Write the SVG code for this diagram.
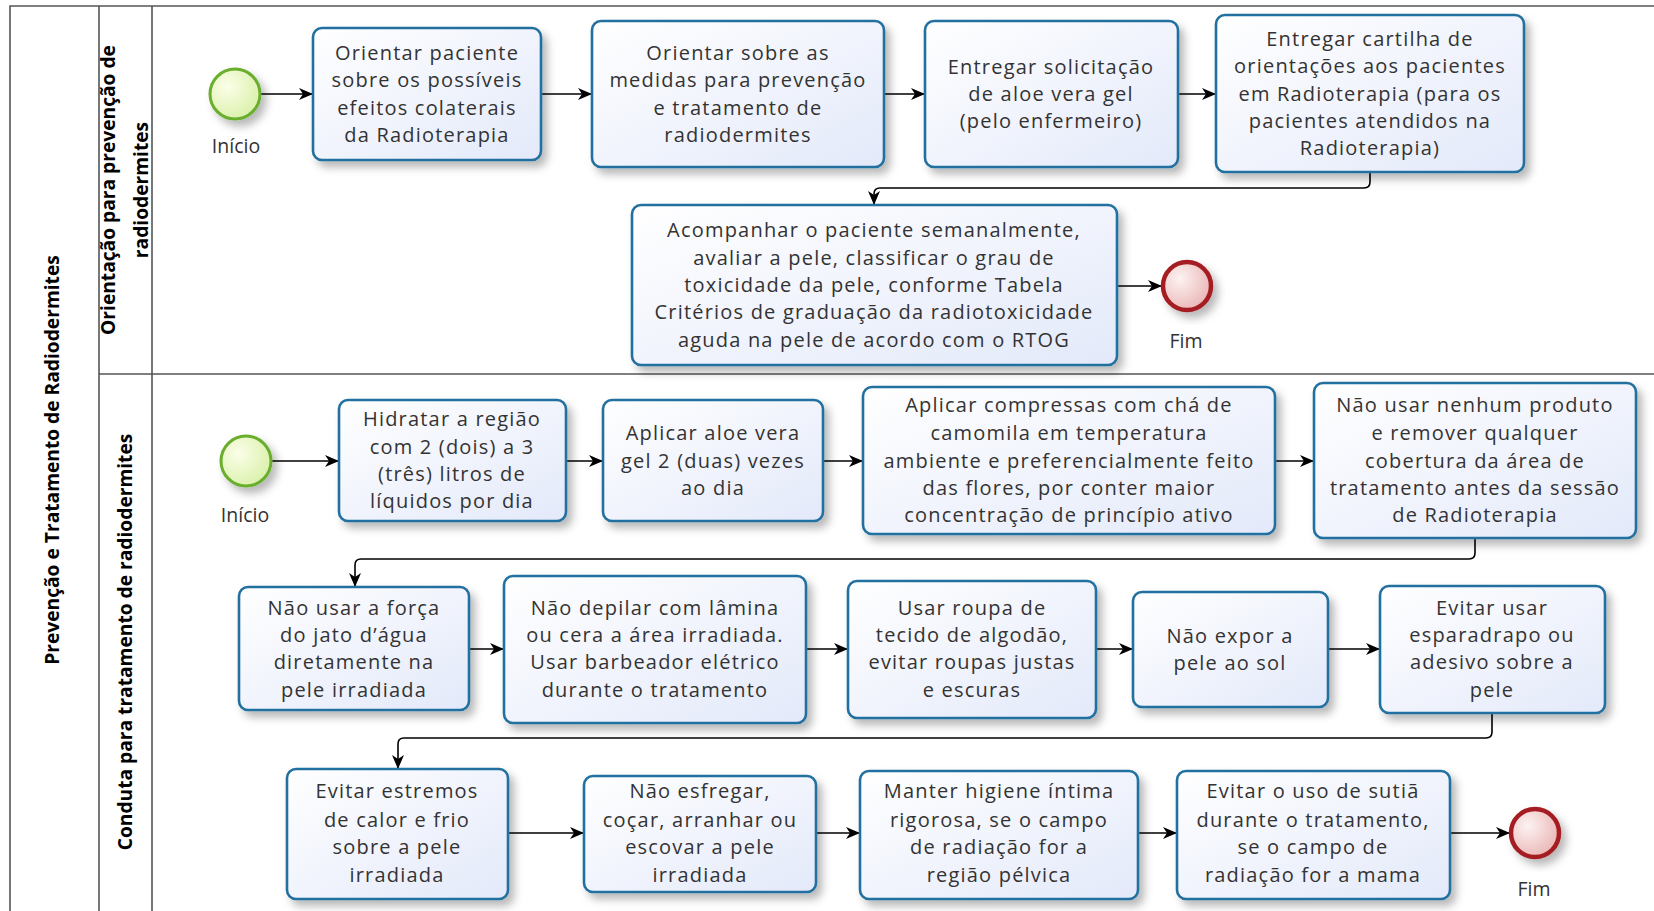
<svg xmlns="http://www.w3.org/2000/svg" width="1654" height="911" viewBox="0 0 1654 911">
<defs>
<linearGradient id="taskFill" x1="0" y1="0" x2="1" y2="1">
<stop offset="0" stop-color="#ffffff"/>
<stop offset="1" stop-color="#e3e9fa"/>
</linearGradient>
<radialGradient id="startFill" cx="0.35" cy="0.35" r="0.75">
<stop offset="0" stop-color="#fbfee9"/>
<stop offset="1" stop-color="#d8f0a6"/>
</radialGradient>
<radialGradient id="endFill" cx="0.35" cy="0.35" r="0.75">
<stop offset="0" stop-color="#fdf2f2"/>
<stop offset="1" stop-color="#e9b2b2"/>
</radialGradient>
<filter id="shadow" x="-20%" y="-20%" width="150%" height="150%">
<feDropShadow dx="5" dy="6" stdDeviation="4" flood-color="#000" flood-opacity="0.28"/>
</filter>
<marker id="arrow" viewBox="0 0 14 12" refX="14" refY="6" markerWidth="14" markerHeight="12" markerUnits="userSpaceOnUse" orient="auto">
<path d="M0,0 L14,6 L0,12 L4,6 z" fill="#000"/>
</marker>
</defs>
<style>
.lane{fill:none;stroke:#555;stroke-width:1.6}
.task{fill:url(#taskFill);stroke:#23709f;stroke-width:2.6;filter:url(#shadow)}
.start{fill:url(#startFill);stroke:#6aae2e;stroke-width:3;filter:url(#shadow)}
.end{fill:url(#endFill);stroke:#a51f22;stroke-width:4.5;filter:url(#shadow)}
.t{font-family:"Open Sans","DejaVu Sans",sans-serif;font-size:20px;letter-spacing:1.2px;fill:#333;text-anchor:middle}
.lbl{font-family:"Open Sans","DejaVu Sans",sans-serif;font-size:19.5px;fill:#333;text-anchor:middle}
.hd{font-family:"Open Sans","DejaVu Sans",sans-serif;font-size:19.2px;font-weight:700;fill:#000;text-anchor:middle}
.c{fill:none;stroke:#000;stroke-width:1.6;marker-end:url(#arrow)}
</style>
<rect width="1654" height="911" fill="#fff"/>

<g id="pool">
<path class="lane" d="M10,911 V6 H1654"/>
<path class="lane" d="M99,6 V911"/>
<path class="lane" d="M152,6 V911"/>
<path class="lane" d="M99,374 H1654"/>
<text class="hd" transform="translate(59,460) rotate(-90)">Prevenção e Tratamento de Radiodermites</text>
</g>
<g id="lane1-label">
<text class="hd" transform="translate(115,190) rotate(-90)">Orientação para prevenção de</text>
<text class="hd" transform="translate(148,190) rotate(-90)">radiodermites</text>
</g>
<g id="lane2-label">
<text class="hd" transform="translate(132,642) rotate(-90)">Conduta para tratamento de radiodermites</text>
</g>

<g id="connectors">
<path class="c" d="M260,94 H313"/>
<path class="c" d="M541,94 H592"/>
<path class="c" d="M884,94 H925"/>
<path class="c" d="M1178,94 H1216"/>
<path class="c" d="M1370,172 V182 Q1370,188 1364,188 H880 Q874,188 874,194 V205"/>
<path class="c" d="M1117,286 H1162"/>
<path class="c" d="M271,461 H339"/>
<path class="c" d="M566,461 H603"/>
<path class="c" d="M823,461 H863"/>
<path class="c" d="M1275,461 H1314"/>
<path class="c" d="M1475,538 V553 Q1475,559 1469,559 H361 Q355,559 355,565 V587"/>
<path class="c" d="M469,649 H504"/>
<path class="c" d="M806,649 H848"/>
<path class="c" d="M1096,649 H1133"/>
<path class="c" d="M1328,649 H1380"/>
<path class="c" d="M1492,713 V732 Q1492,738 1486,738 H404 Q398,738 398,744 V769"/>
<path class="c" d="M508,833 H584"/>
<path class="c" d="M816,833 H860"/>
<path class="c" d="M1138,833 H1177"/>
<path class="c" d="M1450,833 H1510"/>
</g>

<g id="start1">
<circle class="start" cx="235" cy="94" r="25"/>
<text class="lbl" x="236" y="153">Início</text>
</g>
<g id="task-orientar-paciente">
<rect class="task" x="313" y="28" width="228" height="132" rx="9"/>
<text class="t" x="427" y="60">Orientar paciente</text>
<text class="t" x="427" y="87">sobre os possíveis</text>
<text class="t" x="427" y="115">efeitos colaterais</text>
<text class="t" x="427" y="142">da Radioterapia</text>
</g>
<g id="task-orientar-medidas">
<rect class="task" x="592" y="21" width="292" height="146" rx="9"/>
<text class="t" x="738" y="60">Orientar sobre as</text>
<text class="t" x="738" y="87">medidas para prevenção</text>
<text class="t" x="738" y="115">e tratamento de</text>
<text class="t" x="738" y="142">radiodermites</text>
</g>
<g id="task-entregar-solicitacao">
<rect class="task" x="925" y="21" width="253" height="146" rx="9"/>
<text class="t" x="1051" y="74">Entregar solicitação</text>
<text class="t" x="1051" y="101">de aloe vera gel</text>
<text class="t" x="1051" y="128">(pelo enfermeiro)</text>
</g>
<g id="task-entregar-cartilha">
<rect class="task" x="1216" y="15" width="308" height="157" rx="9"/>
<text class="t" x="1370" y="46">Entregar cartilha de</text>
<text class="t" x="1370" y="73">orientações aos pacientes</text>
<text class="t" x="1370" y="101">em Radioterapia (para os</text>
<text class="t" x="1370" y="128">pacientes atendidos na</text>
<text class="t" x="1370" y="155">Radioterapia)</text>
</g>
<g id="task-acompanhar">
<rect class="task" x="632" y="205" width="485" height="160" rx="9"/>
<text class="t" x="874" y="237">Acompanhar o paciente semanalmente,</text>
<text class="t" x="874" y="265">avaliar a pele, classificar o grau de</text>
<text class="t" x="874" y="292">toxicidade da pele, conforme Tabela</text>
<text class="t" x="874" y="319">Critérios de graduação da radiotoxicidade</text>
<text class="t" x="874" y="347">aguda na pele de acordo com o RTOG</text>
</g>
<g id="end1">
<circle class="end" cx="1187" cy="286" r="24"/>
<text class="lbl" x="1186" y="348">Fim</text>
</g>

<g id="start2">
<circle class="start" cx="246" cy="461" r="25"/>
<text class="lbl" x="245" y="522">Início</text>
</g>
<g id="task-hidratar">
<rect class="task" x="339" y="400" width="227" height="121" rx="9"/>
<text class="t" x="452" y="426">Hidratar a região</text>
<text class="t" x="452" y="454">com 2 (dois) a 3</text>
<text class="t" x="452" y="481">(três) litros de</text>
<text class="t" x="452" y="508">líquidos por dia</text>
</g>
<g id="task-aplicar-aloe">
<rect class="task" x="603" y="400" width="220" height="121" rx="9"/>
<text class="t" x="713" y="440">Aplicar aloe vera</text>
<text class="t" x="713" y="468">gel 2 (duas) vezes</text>
<text class="t" x="713" y="495">ao dia</text>
</g>
<g id="task-compressas">
<rect class="task" x="863" y="387" width="412" height="147" rx="9"/>
<text class="t" x="1069" y="412">Aplicar compressas com chá de</text>
<text class="t" x="1069" y="440">camomila em temperatura</text>
<text class="t" x="1069" y="468">ambiente e preferencialmente feito</text>
<text class="t" x="1069" y="495">das flores, por conter maior</text>
<text class="t" x="1069" y="522">concentração de princípio ativo</text>
</g>
<g id="task-nao-usar-produto">
<rect class="task" x="1314" y="383" width="322" height="155" rx="9"/>
<text class="t" x="1475" y="412">Não usar nenhum produto</text>
<text class="t" x="1475" y="440">e remover qualquer</text>
<text class="t" x="1475" y="468">cobertura da área de</text>
<text class="t" x="1475" y="495">tratamento antes da sessão</text>
<text class="t" x="1475" y="522">de Radioterapia</text>
</g>
<g id="task-jato">
<rect class="task" x="239" y="587" width="230" height="123" rx="9"/>
<text class="t" x="354" y="615">Não usar a força</text>
<text class="t" x="354" y="642">do jato d’água</text>
<text class="t" x="354" y="669">diretamente na</text>
<text class="t" x="354" y="697">pele irradiada</text>
</g>
<g id="task-depilar">
<rect class="task" x="504" y="576" width="302" height="147" rx="9"/>
<text class="t" x="655" y="615">Não depilar com lâmina</text>
<text class="t" x="655" y="642">ou cera a área irradiada.</text>
<text class="t" x="655" y="669">Usar barbeador elétrico</text>
<text class="t" x="655" y="697">durante o tratamento</text>
</g>
<g id="task-roupa">
<rect class="task" x="848" y="581" width="248" height="137" rx="9"/>
<text class="t" x="972" y="615">Usar roupa de</text>
<text class="t" x="972" y="642">tecido de algodão,</text>
<text class="t" x="972" y="669">evitar roupas justas</text>
<text class="t" x="972" y="697">e escuras</text>
</g>
<g id="task-sol">
<rect class="task" x="1133" y="592" width="195" height="115" rx="9"/>
<text class="t" x="1230" y="643">Não expor a</text>
<text class="t" x="1230" y="670">pele ao sol</text>
</g>
<g id="task-esparadrapo">
<rect class="task" x="1380" y="586" width="225" height="127" rx="9"/>
<text class="t" x="1492" y="615">Evitar usar</text>
<text class="t" x="1492" y="642">esparadrapo ou</text>
<text class="t" x="1492" y="669">adesivo sobre a</text>
<text class="t" x="1492" y="697">pele</text>
</g>
<g id="task-estremos">
<rect class="task" x="287" y="769" width="221" height="130" rx="9"/>
<text class="t" x="397" y="798">Evitar estremos</text>
<text class="t" x="397" y="827">de calor e frio</text>
<text class="t" x="397" y="854">sobre a pele</text>
<text class="t" x="397" y="882">irradiada</text>
</g>
<g id="task-esfregar">
<rect class="task" x="584" y="776" width="232" height="116" rx="9"/>
<text class="t" x="700" y="798">Não esfregar,</text>
<text class="t" x="700" y="827">coçar, arranhar ou</text>
<text class="t" x="700" y="854">escovar a pele</text>
<text class="t" x="700" y="882">irradiada</text>
</g>
<g id="task-higiene">
<rect class="task" x="860" y="771" width="278" height="128" rx="9"/>
<text class="t" x="999" y="798">Manter higiene íntima</text>
<text class="t" x="999" y="827">rigorosa, se o campo</text>
<text class="t" x="999" y="854">de radiação for a</text>
<text class="t" x="999" y="882">região pélvica</text>
</g>
<g id="task-sutia">
<rect class="task" x="1177" y="771" width="273" height="128" rx="9"/>
<text class="t" x="1313" y="798">Evitar o uso de sutiã</text>
<text class="t" x="1313" y="827">durante o tratamento,</text>
<text class="t" x="1313" y="854">se o campo de</text>
<text class="t" x="1313" y="882">radiação for a mama</text>
</g>
<g id="end2">
<circle class="end" cx="1535" cy="833" r="24"/>
<text class="lbl" x="1534" y="896">Fim</text>
</g>
</svg>
